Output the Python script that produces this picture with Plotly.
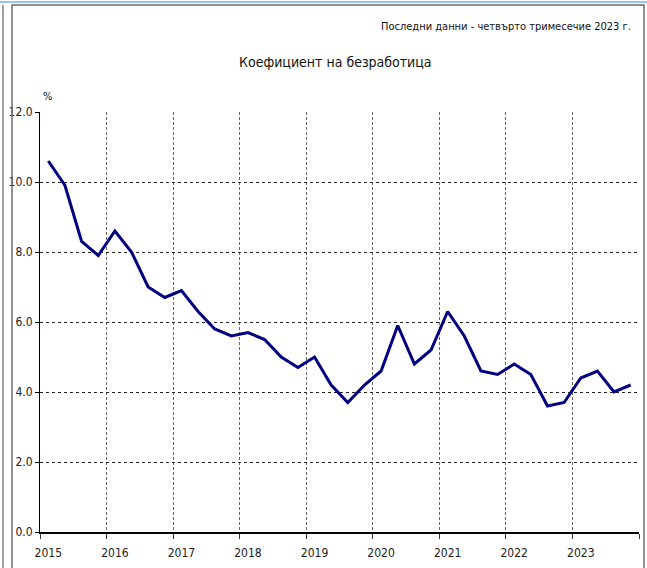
import plotly.graph_objects as go

# Коефициент на безработица по тримесечия, %
godini = [2015, 2016, 2017, 2018, 2019, 2020, 2021, 2022, 2023]
trimesechia = [1, 2, 3, 4]
koeficient = [
    10.6, 9.9, 8.3, 7.9,   # 2015
    8.6, 8.0, 7.0, 6.7,    # 2016
    6.9, 6.3, 5.8, 5.6,    # 2017
    5.7, 5.5, 5.0, 4.7,    # 2018
    5.0, 4.2, 3.7, 4.2,    # 2019
    4.6, 5.9, 4.8, 5.2,    # 2020
    6.3, 5.6, 4.6, 4.5,    # 2021
    4.8, 4.5, 3.6, 3.7,    # 2022
    4.4, 4.6, 4.0, 4.2,    # 2023
]
etiketi_godini = [str(g) for g in godini]

# всяко тримесечие е в средата на своята четвърт от годината
x = [g + (t - 0.5) / 4 for g in godini for t in trimesechia]

SHRIFT = "DejaVu Sans Condensed, Liberation Sans Narrow, sans-serif"

fig = go.Figure()
fig.add_trace(
    go.Scatter(
        x=x,
        y=koeficient,
        mode="lines",
        line=dict(color="#000080", width=3),
        hovertemplate="%{y:.1f}%<extra></extra>",
    )
)

fig.update_layout(
    width=647,
    height=568,
    margin=dict(l=40, r=8, t=112, b=36),
    paper_bgcolor="white",
    plot_bgcolor="white",
    showlegend=False,
    font=dict(family=SHRIFT, size=11, color="#222222"),
    xaxis=dict(
        range=[godini[0], godini[-1] + 1],
        tickmode="array",
        tickvals=[g + 0.125 for g in godini],
        ticktext=etiketi_godini,
        # невидими чертички само за да свалят надписите малко надолу
        ticks="outside",
        ticklen=9,
        tickcolor="rgba(0,0,0,0)",
        showgrid=False,
        zeroline=False,
        showline=True,
        linecolor="black",
        linewidth=1.5,
        tickfont=dict(size=12),
        minor=dict(
            tickmode="array",
            tickvals=godini + [godini[-1] + 1],
            ticks="outside",
            ticklen=5,
            tickcolor="#333333",
            showgrid=True,
            gridcolor="#666666",
            griddash="3px,2px",
            gridwidth=1,
        ),
    ),
    yaxis=dict(
        range=[0, 12],
        dtick=2,
        tickformat=".1f",
        ticks="outside",
        ticklen=4,
        tickcolor="black",
        showgrid=True,
        gridcolor="#222222",
        griddash="dot",
        gridwidth=1,
        zeroline=False,
        showline=True,
        linecolor="black",
        linewidth=1,
        tickfont=dict(size=12),
    ),
    shapes=[
        # рамка около графиката
        dict(type="rect", xref="paper", yref="paper",
             x0=-0.0467, x1=1.0083, y0=-0.2, y1=1.2548,
             line=dict(color="#6e6e6e", width=1.5)),
        # лява линия на страницата
        dict(type="line", xref="paper", yref="paper",
             x0=-0.0618, x1=-0.0618, y0=-0.2, y1=1.255,
             line=dict(color="#444444", width=1)),
        # светлосиня линия отгоре
        dict(type="line", xref="paper", yref="paper",
             x0=-0.08, x1=1.03, y0=1.2619, y1=1.2619,
             line=dict(color="#9cc3e6", width=2)),
    ],
    annotations=[
        dict(text="Последни данни - четвърто тримесечие 2023 г.",
             xref="paper", yref="paper", x=0.99, y=1.2024,
             xanchor="right", yanchor="middle", showarrow=False,
             font=dict(size=11, color="#111111")),
        dict(text="Коефициент на безработица",
             xref="paper", yref="paper", x=0.4925, y=1.119,
             xanchor="center", yanchor="middle", showarrow=False,
             font=dict(size=14, color="#111111")),
        dict(text="%",
             xref="paper", yref="paper", x=0.0117, y=1.038,
             xanchor="center", yanchor="middle", showarrow=False,
             font=dict(size=11, color="#111111")),
    ],
)

# без отстъпа на страницата, за да съвпадне фигурата с прозореца
fig.write_html(
    "out.html",
    config={"displayModeBar": False},
    post_script="document.body.style.margin='0';",
)
